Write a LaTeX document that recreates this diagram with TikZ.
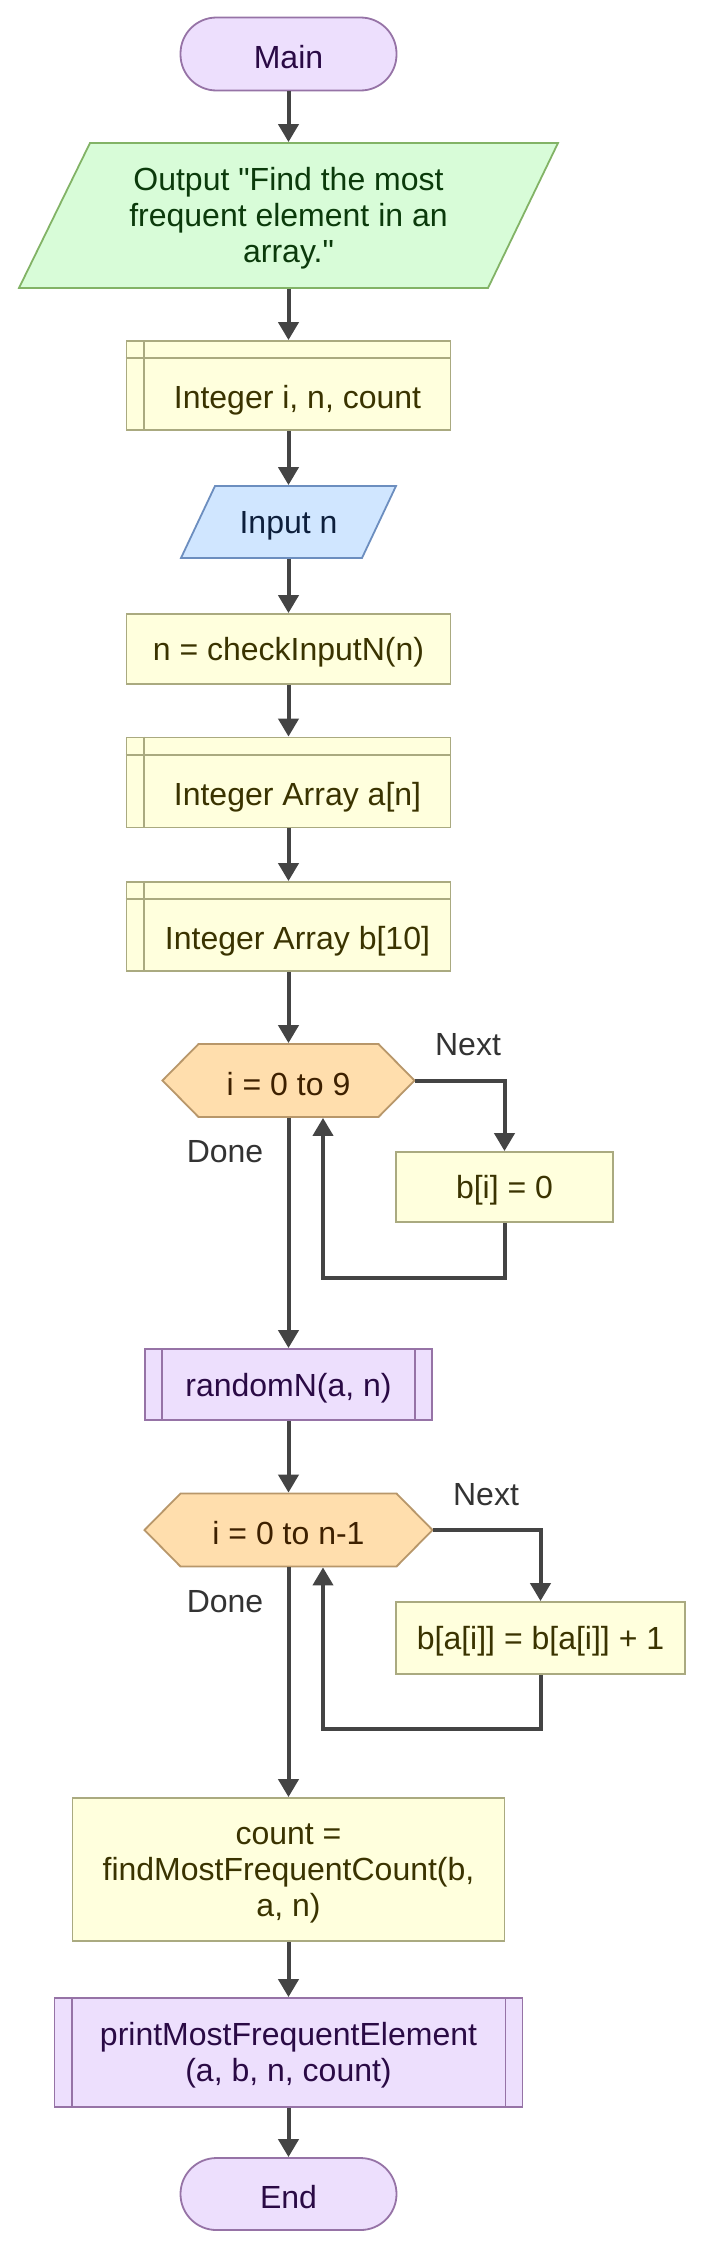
\documentclass[tikz,border=0pt]{standalone}
\usepackage{fontspec}
\setmainfont{Liberation Sans}[Ligatures=TeXOff]
\usetikzlibrary{arrows.meta}
\definecolor{purpleF}{HTML}{EDDFFD}
\definecolor{purpleS}{HTML}{9673A6}
\definecolor{purpleT}{HTML}{2A0A45}
\definecolor{greenF}{HTML}{D8FCD8}
\definecolor{greenS}{HTML}{82B366}
\definecolor{greenT}{HTML}{0B3A0B}
\definecolor{yelF}{HTML}{FFFFDD}
\definecolor{yelS}{HTML}{AAAA80}
\definecolor{yelT}{HTML}{3A3300}
\definecolor{blueF}{HTML}{D0E6FF}
\definecolor{blueS}{HTML}{6C8EBF}
\definecolor{blueT}{HTML}{0D1F3C}
\definecolor{hexF}{HTML}{FFDEAD}
\definecolor{hexS}{HTML}{B8976A}
\definecolor{hexT}{HTML}{3D2000}
\definecolor{lineC}{HTML}{444444}
\definecolor{lblC}{HTML}{333333}
% lower single-line text slightly
\newcommand\lw[1]{\raisebox{-3.5pt}[\height][\depth]{#1}}
% text of declaration boxes: centred in the area right of / below the inner lines
\newcommand\decltext[1]{\raisebox{-15pt}[\height][\depth]{\hspace*{18pt}#1}}
% multi-line text, lowered slightly
\newcommand\ml[1]{\raisebox{-4pt}[\height][\depth]{\begin{tabular}{@{}c@{}}#1\end{tabular}}}
\begin{document}
\begin{tikzpicture}[x=1pt,y=-1pt,
  font=\fontsize{32}{36}\selectfont,
  base/.style={line width=1.8pt, inner sep=0pt, align=center},
  term/.style={base, draw=purpleS, fill=purpleF, text=purpleT, rounded corners=36pt},
  sub/.style={base, draw=purpleS, fill=purpleF, text=purpleT},
  proc/.style={base, draw=yelS, fill=yelF, text=yelT},
  iotext/.style={base},
  shapeline/.style={line width=1.8pt},
  arr/.style={draw=lineC, line width=4pt, -{Triangle[length=18pt,width=20pt]}},
  lbl/.style={text=lblC, inner sep=0pt}
]
\useasboundingbox (0,0) rectangle (703,2251);
\fill[white] (0,0) rectangle (703,2251);

% background shapes for io and loop nodes
\filldraw[shapeline, fill=greenF, draw=greenS] (90,143) -- (558,143) -- (488,288) -- (19,288) -- cycle;
\filldraw[shapeline, fill=blueF, draw=blueS] (215,486) -- (396,486) -- (362,558) -- (181,558) -- cycle;
\filldraw[shapeline, fill=hexF, draw=hexS] (162.5,1080.5) -- (198.5,1044) -- (378.5,1044) -- (414.5,1080.5) -- (378.5,1117) -- (198.5,1117) -- cycle;
\filldraw[shapeline, fill=hexF, draw=hexS] (144.5,1530) -- (180.5,1493.5) -- (396.5,1493.5) -- (432.5,1530) -- (396.5,1566.5) -- (180.5,1566.5) -- cycle;

% nodes
\node[term, minimum width=216pt, minimum height=73pt] (main) at (288.5,54) {\lw{Main}};
\node[iotext, text=greenT, minimum width=469pt, minimum height=145pt] (out) at (288.5,215.5) {\ml{Output "Find the most\\frequent element in an\\array."}};
\node[proc, minimum width=324pt, minimum height=89pt] (d1) at (288.5,385.5) {\decltext{Integer i, n, count}};
\node[iotext, text=blueT, minimum width=215pt, minimum height=72pt] (inp) at (288.5,522) {\lw{Input n}};
\node[proc, minimum width=324pt, minimum height=70pt] (chk) at (288.5,649) {\lw{n = checkInputN(n)}};
\node[proc, minimum width=324pt, minimum height=90pt] (d2) at (288.5,782.5) {\decltext{Integer Array a[n]}};
\node[proc, minimum width=324pt, minimum height=89pt] (d3) at (288.5,926.5) {\decltext{Integer Array b[10]}};
\node[iotext, text=hexT, minimum width=252pt, minimum height=73pt] (h1) at (288.5,1080.5) {\lw{i = 0 to 9}};
\node[proc, minimum width=217pt, minimum height=70pt] (bi0) at (504.5,1187) {\lw{b[i] = 0}};
\node[sub, minimum width=287pt, minimum height=71pt] (rnd) at (288.5,1384.5) {\lw{randomN(a, n)}};
\node[iotext, text=hexT, minimum width=288pt, minimum height=73pt] (h2) at (288.5,1530) {\lw{i = 0 to n-1}};
\node[proc, minimum width=289pt, minimum height=72pt] (bai) at (540.5,1638) {\lw{b[a[i]] = b[a[i]] + 1}};
\node[proc, minimum width=432pt, minimum height=143pt] (cnt) at (288.5,1869.5) {\ml{count =\\findMostFrequentCount(b,\\a, n)}};
\node[sub, minimum width=468pt, minimum height=109pt] (prt) at (288.5,2052.5) {\ml{printMostFrequentElement\\(a, b, n, count)}};
\node[term, minimum width=216pt, minimum height=72pt] (end) at (288.5,2194) {\lw{End}};

% inner lines of declaration and subprocess boxes
\foreach \n in {d1,d2,d3}{
  \draw[shapeline, yelS] ([xshift=18pt]\n.north west) -- ([xshift=18pt]\n.south west);
  \draw[shapeline, yelS] ([yshift=-18pt]\n.north west) -- ([yshift=-18pt]\n.north east);
}
\foreach \n in {rnd,prt}{
  \draw[shapeline, purpleS] ([xshift=18pt]\n.north west) -- ([xshift=18pt]\n.south west);
  \draw[shapeline, purpleS] ([xshift=-18pt]\n.north east) -- ([xshift=-18pt]\n.south east);
}

% labels
\node[lbl] (nx1) at (468,1045) {Next};
\node[lbl] (dn1) at (225,1152) {Done};
\node[lbl] (nx2) at (486,1495) {Next};
\node[lbl] (dn2) at (225,1602) {Done};

% connectors
\draw[arr] (main.south) -- (out.north);
\draw[arr] (out.south) -- (d1.north);
\draw[arr] (d1.south) -- (inp.north);
\draw[arr] (inp.south) -- (chk.north);
\draw[arr] (chk.south) -- (d2.north);
\draw[arr] (d2.south) -- (d3.north);
\draw[arr] (d3.south) -- (h1.north);
\draw[arr] (h1.east) -| (bi0.north);
\draw[arr] (bi0.south) -- ++(0,55) -| ([xshift=34.5pt]h1.south);
\draw[arr] (h1.south) -- (rnd.north);
\draw[arr] (rnd.south) -- (h2.north);
\draw[arr] (h2.east) -| (bai.north);
\draw[arr] (bai.south) -- ++(0,54) -| ([xshift=34.5pt]h2.south);
\draw[arr] (h2.south) -- (cnt.north);
\draw[arr] (cnt.south) -- (prt.north);
\draw[arr] (prt.south) -- (end.north);
\end{tikzpicture}
\end{document}
